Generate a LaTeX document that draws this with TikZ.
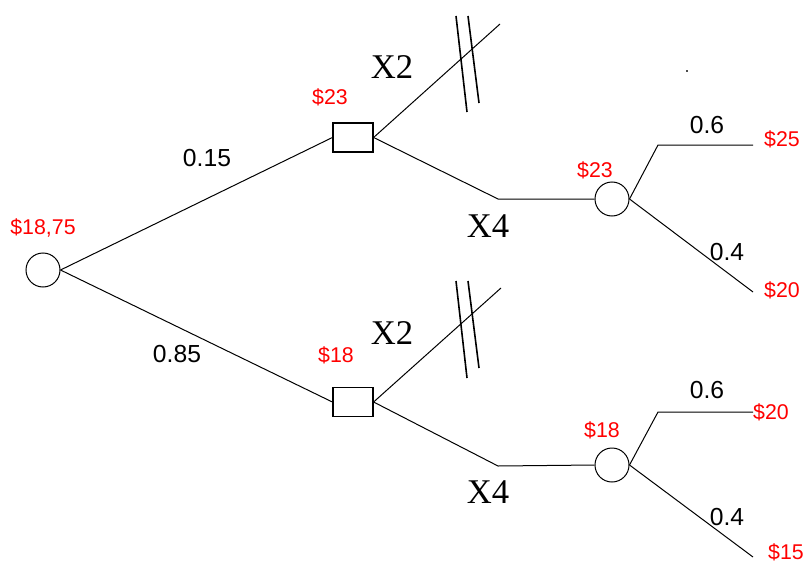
\documentclass[tikz,border=0pt]{standalone}
\usepackage{fontspec}
\setmainfont{Liberation Serif}
\newfontfamily\numfont{Liberation Sans}
\definecolor{valred}{RGB}{255,0,0}
\tikzset{
  chance/.style={draw, circle, line width=0.75pt, minimum size=25.5pt, inner sep=0pt},
  decision/.style={draw, rectangle, line width=0.9pt, minimum width=30pt, minimum height=21.75pt, inner sep=0pt},
  branch/.style={line width=0.75pt},
  cut/.style={line width=1.2pt},
  value/.style={text=valred, font=\numfont\fontsize{16pt}{18pt}\selectfont, inner sep=0pt},
  prob/.style={font=\numfont\fontsize{18.5pt}{20pt}\selectfont, inner sep=0pt},
  option/.style={font=\fontsize{26pt}{28pt}\selectfont, inner sep=0pt}
}
\begin{document}
\begin{tikzpicture}[x=0.75pt, y=-0.75pt]
\useasboundingbox (0,0) rectangle (805,563);

% decision tree nodes
\node[chance]   (root) at (43,270) {};
\node[decision] (d1)   at (353,137.5) {};
\node[decision] (d2)   at (353,402) {};
\node[chance]   (c1)   at (612,199) {};
\node[chance]   (c2)   at (612,465) {};

% bends and leaf ends
\coordinate (x2a) at (500,24);
\coordinate (x4a) at (498,199);
\coordinate (x2b) at (501,288);
\coordinate (x4b) at (498,466);
\coordinate (k1)  at (658,145);
\coordinate (e1)  at (753,145);
\coordinate (e2)  at (753,292);
\coordinate (k2)  at (658,412);
\coordinate (e3)  at (753,412);
\coordinate (e4)  at (753,557);

% branches
\draw[branch] (root.east) -- (d1.west);
\draw[branch] (root.east) -- (d2.west);
\draw[branch] (d1.east) -- (x2a);
\draw[branch] (d1.east) -- (x4a) -- (c1.west);
\draw[branch] (d2.east) -- (x2b);
\draw[branch] (d2.east) -- (x4b) -- (c2.west);
\draw[branch] (c1.east) -- (k1) -- (e1);
\draw[branch] (c1.east) -- (e2);
\draw[branch] (c2.east) -- (k2) -- (e3);
\draw[branch] (c2.east) -- (e4);

% pruned options
\draw[cut] (456,16) -- (467,112);
\draw[cut] (468,16) -- (479,103);
\draw[cut] (456,281) -- (467,378);
\draw[cut] (468,281) -- (479,368);

% expected values
\node[value] (v0) at (43,228) {\$18,75};
\node[value] (v1) at (330,97) {\$23};
\node[value] (v2) at (336,355) {\$18};
\node[value] (v3) at (595,170) {\$23};
\node[value] (v4) at (602,430) {\$18};
\node[value] (v5) at (782,139) {\$25};
\node[value] (v6) at (782,290) {\$20};
\node[value] (v7) at (771,412) {\$20};
\node[value] (v8) at (786,552) {\$15};

% probabilities
\node[prob] (p1) at (207,158) {0.15};
\node[prob] (p2) at (177,354) {0.85};
\node[prob] (p3) at (707,125) {0.6};
\node[prob] (p4) at (727,252) {0.4};
\node[prob] (p5) at (707,390) {0.6};
\node[prob] (p6) at (727,517) {0.4};

% options
\node[option] (o1) at (392,67)  {X2};
\node[option] (o2) at (488,226) {X4};
\node[option] (o3) at (392,333) {X2};
\node[option] (o4) at (488,492) {X4};

% stray mark
\fill[black!70] (686,70) rectangle (688,72);
\end{tikzpicture}
\end{document}
